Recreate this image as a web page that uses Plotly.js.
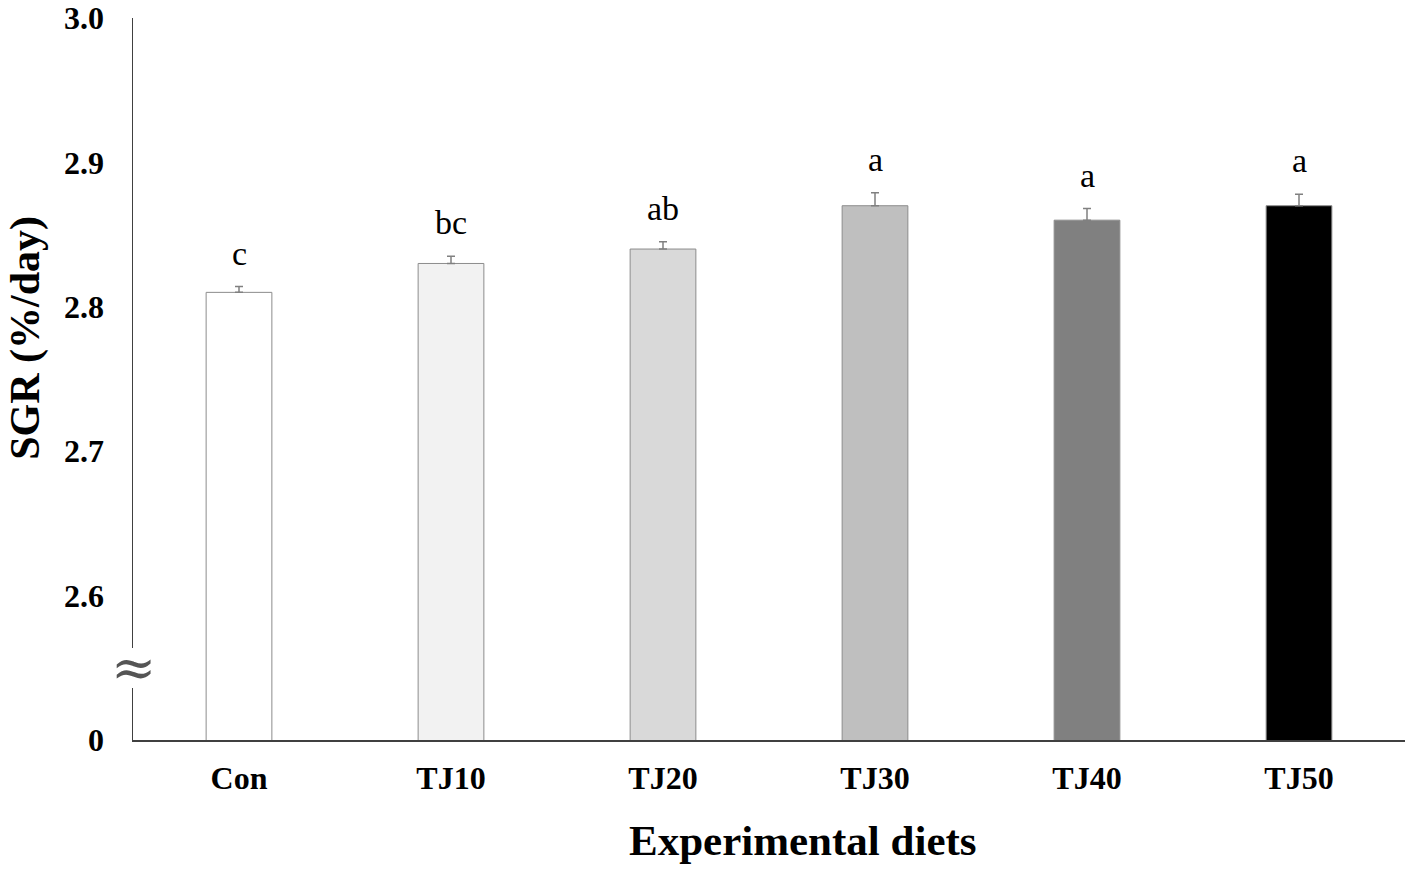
<!DOCTYPE html>
<html>
<head>
<meta charset="utf-8">
<script src="https://cdn.plot.ly/plotly-3.0.1.min.js"></script>
<style>
  html, body { margin: 0; padding: 0; background: #fff; }
  #chart { width: 1417px; height: 876px; }
</style>
</head>
<body>
<div id="chart"></div>
<script>
// diets and SGR values
var diets = ['Con', 'TJ10', 'TJ20', 'TJ30', 'TJ40', 'TJ50'];
var sgr = [2.81, 2.83, 2.84, 2.87, 2.86, 2.87];
var sgrErr = [0.004, 0.005, 0.005, 0.009, 0.008, 0.008];
var letters = ['c', 'bc', 'ab', 'a', 'a', 'a'];
var barColors = ['#ffffff', '#f2f2f2', '#d9d9d9', '#bfbfbf', '#808080', '#000000'];

// broken axis: the bottom tick stands for 0
var tickVals = [2.5, 2.6, 2.7, 2.8, 2.9, 3.0];
var tickText = ['0', '2.6', '2.7', '2.8', '2.9', '3.0'];

var serif = 'Liberation Serif, Times New Roman, serif';

var trace = {
    type: 'bar',
    x: diets,
    y: sgr,
    width: 0.31,
    marker: { color: barColors, line: { color: '#8c8c8c', width: 1 } },
    error_y: { type: 'data', array: sgrErr, symmetric: false, arrayminus: sgrErr.map(() => 0),
               color: '#808080', thickness: 1.5, width: 4 },
    hoverinfo: 'none'
};

var annotations = diets.map((d, i) => ({
    x: d, y: sgr[i] + sgrErr[i], xref: 'x', yref: 'y',
    text: letters[i], showarrow: false, yanchor: 'bottom', yshift: 13,
    font: { family: serif, size: 34, color: '#000' }
}));

// axis titles
annotations.push({
    x: 0.527, y: 0, xref: 'paper', yref: 'paper', yanchor: 'middle', yshift: -100,
    text: '<b>Experimental diets</b>', showarrow: false,
    font: { family: serif, size: 43, color: '#000' }
});
annotations.push({
    x: 0, y: 0.557, xref: 'paper', yref: 'paper', xanchor: 'center', xshift: -107,
    text: '<b>SGR (%/day)</b>', showarrow: false, textangle: -90,
    font: { family: serif, size: 42, color: '#000' }
});
// break mark on the y axis
annotations.push({
    x: 0, y: 2.5 + 73 / 1444, xref: 'paper', yref: 'y', xanchor: 'center', yanchor: 'middle',
    text: '\u2248', showarrow: false,
    font: { family: 'DejaVu Serif, serif', size: 54, color: '#555' }
});

var layout = {
    width: 1417, height: 876,
    margin: { l: 133, r: 12, t: 18, b: 136 },
    paper_bgcolor: '#fff', plot_bgcolor: '#fff',
    showlegend: false,
    xaxis: {
        type: 'category', range: [-0.5, 5.5],
        showline: true, linecolor: '#404040', linewidth: 1.5,
        ticks: '', ticklabelstandoff: 9,
        tickfont: { family: serif, size: 32, color: '#000', weight: 'bold' },
        showgrid: false, zeroline: false, fixedrange: true
    },
    yaxis: {
        range: [2.5, 3.0],
        tickvals: tickVals, ticktext: tickText,
        showline: true, linecolor: '#404040', linewidth: 1.5,
        ticks: '', ticklabelstandoff: 21,
        tickfont: { family: serif, size: 32, color: '#000', weight: 'bold' },
        showgrid: false, zeroline: false, fixedrange: true
    },
    shapes: [{
        type: 'rect', xref: 'paper', yref: 'y', layer: 'above',
        x0: -0.004, x1: 0.004, y0: 2.5 + 52 / 1444, y1: 2.5 + 92 / 1444,
        fillcolor: '#fff', line: { width: 0 }
    }],
    annotations: annotations
};

Plotly.newPlot('chart', [trace], layout, { displayModeBar: false, staticPlot: true });
</script>
</body>
</html>
